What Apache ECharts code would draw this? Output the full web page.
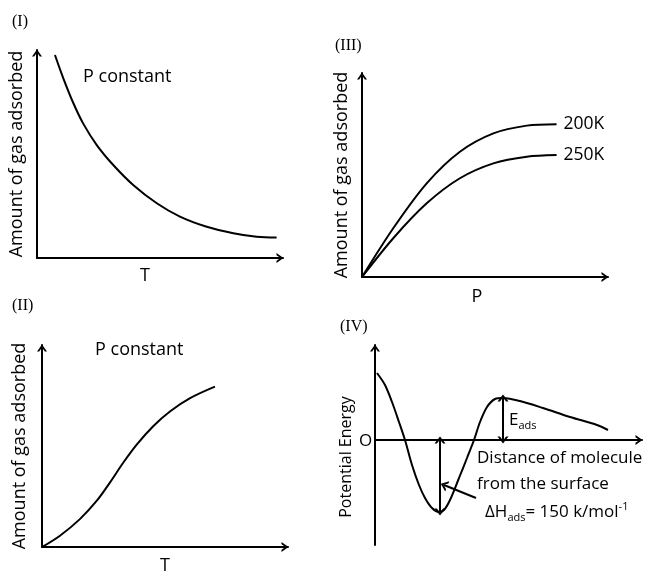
<!DOCTYPE html>
<html>
<head>
<meta charset="utf-8">
<script src="https://cdn.jsdelivr.net/npm/echarts@6/dist/echarts.min.js"></script>
<style>
html, body { margin: 0; padding: 0; background: #fff; }
#chart { width: 652px; height: 576px; }
</style>
</head>
<body>
<div id="chart"></div>
<script>
// (I) amount adsorbed falls with temperature, P constant
var tempI = [7.3, 10.7, 14.8, 18.8, 24.3, 31, 39.1, 48.7, 58.1, 69, 79.8, 89.3, 97.4];
var amountI = [97.6, 86.4, 74.4, 64.6, 54.3, 44.7, 35.1, 26.3, 19.9, 15, 11.9, 10.2, 9.8];

// (II) chemisorption rises with temperature, P constant
var tempII = [0, 7.3, 15.4, 22.2, 27.6, 33, 38.5, 45.2, 52, 60.2, 70.3];
var amountII = [0, 5.6, 13.8, 22.8, 31.9, 41.7, 50.7, 59.8, 67.1, 73.7, 79.4];

// (III) isotherms at two temperatures
var pressIII = [0, 12.7, 26.3, 39.8, 53.4, 67, 79.1];
var amount200K = [0, 23.9, 45.9, 61.4, 70.4, 74.2, 74.9];
var amount250K = [0, 19, 36.1, 48.4, 55.7, 59, 59.8];

// (IV) potential energy vs distance from surface
var distIV = [2, 10, 17, 24, 30, 37, 44, 50, 57, 64, 69, 75, 84, 92, 99, 105, 112, 120, 128, 145, 168, 195, 222, 233];
var energyIV = [67, 55, 38, 18, 0, -25, -45, -58, -68, -72, -70, -60, -38, -18, 0, 18, 33, 41, 42, 39, 32, 23, 15, 10];
var eadsArrow = [128, 42, 0];       // x, top, bottom
var dhArrow = [65, 0, -72];         // x, top, bottom
var pointerArrow = [101, -58, 69, -45];

var pair = function (xs, ys) { return xs.map(function (x, i) { return [x, ys[i]]; }); };

var FONT = '"Open Sans", "Noto Sans", sans-serif';
var SERIF = '"Liberation Serif", "DejaVu Serif", serif';
var chevron = 'path://M0,70 L50,0 L100,70 L78,70 L50,30 L22,70 Z';

function nameStyle(size, pad) {
    return { color: '#000', fontSize: size, fontFamily: FONT, padding: pad || 0 };
}

function axisBase(extra) {
    var a = {
        type: 'value',
        axisLine: {
            show: true,
            onZero: true,
            symbol: ['none', chevron],
            symbolSize: [11, 7],
            symbolOffset: [0, -3],
            lineStyle: { color: '#000', width: 2 }
        },
        axisTick: { show: false },
        axisLabel: { show: false },
        splitLine: { show: false },
        nameTextStyle: nameStyle(18)
    };
    for (var k in extra) a[k] = extra[k];
    return a;
}

var lineStyle = { color: '#000', width: 2 };

var chart = echarts.init(document.getElementById('chart'));
var option = {
    animation: false,
    grid: [
        { left: 37, top: 50, width: 246, height: 208 },
        { left: 42, top: 345, width: 246, height: 203 },
        { left: 362, top: 73, width: 246, height: 204 },
        { left: 375, top: 345, width: 267, height: 200 }
    ],
    xAxis: [
        axisBase({ gridIndex: 0, min: 0, max: 100, name: 'T', nameLocation: 'middle', nameGap: 9,
            nameTextStyle: nameStyle(18, [0, 30, 0, 0]) }),
        axisBase({ gridIndex: 1, min: 0, max: 100, name: 'T', nameLocation: 'middle', nameGap: 10 }),
        axisBase({ gridIndex: 2, min: 0, max: 100, name: 'P', nameLocation: 'middle', nameGap: 11,
            nameTextStyle: nameStyle(18, [0, 16, 0, 0]) }),
        axisBase({ gridIndex: 3, min: 0, max: 267 })
    ],
    yAxis: [
        axisBase({ gridIndex: 0, min: 0, max: 100, name: 'Amount of gas adsorbed', nameLocation: 'middle', nameGap: 11 }),
        axisBase({ gridIndex: 1, min: 0, max: 100, name: 'Amount of gas adsorbed', nameLocation: 'middle', nameGap: 13 }),
        axisBase({ gridIndex: 2, min: 0, max: 100, name: 'Amount of gas adsorbed', nameLocation: 'middle', nameGap: 11 }),
        axisBase({ gridIndex: 3, min: -105, max: 95, name: 'Potential Energy', nameLocation: 'middle', nameGap: 21,
            nameTextStyle: nameStyle(16, [0, 24, 0, 0]) })
    ],
    series: [
        {
            type: 'line', xAxisIndex: 0, yAxisIndex: 0, smooth: 0.35, showSymbol: false,
            lineStyle: lineStyle, data: pair(tempI, amountI)
        },
        {
            type: 'line', xAxisIndex: 1, yAxisIndex: 1, smooth: 0.35, showSymbol: false,
            lineStyle: lineStyle, data: pair(tempII, amountII)
        },
        {
            name: '200K', type: 'line', xAxisIndex: 2, yAxisIndex: 2, smooth: 0.3, showSymbol: false,
            lineStyle: lineStyle, data: pair(pressIII, amount200K),
            endLabel: { show: true, formatter: '{a}', color: '#000', fontSize: 17.5, fontFamily: FONT, distance: 7 }
        },
        {
            name: '250K', type: 'line', xAxisIndex: 2, yAxisIndex: 2, smooth: 0.3, showSymbol: false,
            lineStyle: lineStyle, data: pair(pressIII, amount250K),
            endLabel: { show: true, formatter: '{a}', color: '#000', fontSize: 17.5, fontFamily: FONT, distance: 7 }
        },
        {
            type: 'line', xAxisIndex: 3, yAxisIndex: 3, smooth: 0.3, showSymbol: false,
            lineStyle: lineStyle, data: pair(distIV, energyIV),
            markLine: {
                silent: true,
                symbol: [chevron, chevron],
                symbolSize: [11, 7],
                label: { show: false },
                lineStyle: { color: '#000', width: 2, type: 'solid' },
                data: [
                    [{ coord: [eadsArrow[0], eadsArrow[1]] }, { coord: [eadsArrow[0], eadsArrow[2]] }],
                    [{ coord: [dhArrow[0], dhArrow[1]] }, { coord: [dhArrow[0], dhArrow[2]] }],
                    [{ coord: [pointerArrow[0], pointerArrow[1]], symbol: 'none' }, { coord: [pointerArrow[2], pointerArrow[3]] }]
                ]
            }
        }
    ],
    graphic: [
        { type: 'text', left: 12, top: 14, style: { text: '(I)', fontSize: 16, fontFamily: SERIF, fill: '#000' } },
        { type: 'text', left: 12, top: 298, style: { text: '(II)', fontSize: 16, fontFamily: SERIF, fill: '#000' } },
        { type: 'text', left: 335, top: 38, style: { text: '(III)', fontSize: 16, fontFamily: SERIF, fill: '#000' } },
        { type: 'text', left: 340, top: 319, style: { text: '(IV)', fontSize: 16, fontFamily: SERIF, fill: '#000' } },
        { type: 'text', left: 83, top: 68, style: { text: 'P constant', fontSize: 18, fontFamily: FONT, fill: '#000' } },
        { type: 'text', left: 95, top: 341, style: { text: 'P constant', fontSize: 18, fontFamily: FONT, fill: '#000' } },
        { type: 'text', left: 359, top: 433, style: { text: 'O', fontSize: 17, fontFamily: FONT, fill: '#000' } },
        { type: 'text', left: 477, top: 445, style: { text: 'Distance of molecule\nfrom the surface', fontSize: 17, lineHeight: 26, fontFamily: FONT, fill: '#000' } },
        { type: 'text', left: 509, top: 412, style: {
            text: '{n|E}{s|ads}', fill: '#000',
            rich: { n: { fontSize: 17, fontFamily: FONT, lineHeight: 22 }, s: { fontSize: 11, fontFamily: FONT, lineHeight: 12, verticalAlign: 'bottom' } }
        } },
        { type: 'text', left: 485, top: 501, style: {
            text: '{n|\u0394H}{s|ads}{n|= 150 k/mol}{p|-1}', fill: '#000',
            rich: {
                n: { fontSize: 17, fontFamily: FONT, lineHeight: 22 },
                s: { fontSize: 11, fontFamily: FONT, lineHeight: 12, verticalAlign: 'bottom' },
                p: { fontSize: 11, fontFamily: FONT, lineHeight: 12, verticalAlign: 'top' }
            }
        } }
    ]
};
chart.setOption(option);
</script>
</body>
</html>
